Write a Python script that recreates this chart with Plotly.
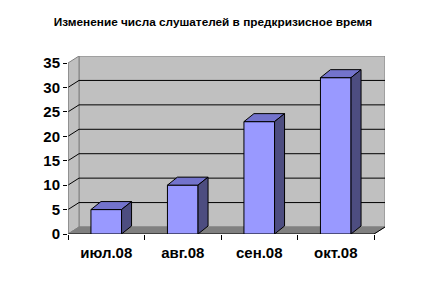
import plotly.graph_objects as go

# ---- data ----
categories = ["июл.08", "авг.08", "сен.08", "окт.08"]
listeners = [5, 10, 23, 32]
value_ticks = [0, 5, 10, 15, 20, 25, 30, 35]
title_text = "Изменение числа слушателей в предкризисное время"

# ---- style / geometry ----
W, H = 426, 284
L, R, T, B = 68, 41, 56, 50
WALL_DX, WALL_DY = 11, 7          # depth offset of back wall, px
BAR_DX, BAR_DY = 10, 8            # depth of bars, px
BAR_W = 0.4
FONT = "Liberation Sans, Arial, sans-serif"

n = len(categories)
vmax = value_ticks[-1]
plot_w = W - L - R
plot_h = H - T - B
cat_px = (plot_w - WALL_DX) / n
val_px = (plot_h - WALL_DY) / vmax
dxd = WALL_DX / cat_px
dyd = WALL_DY / val_px
bdx = BAR_DX / cat_px
bdy = BAR_DY / val_px
x0f, x1f = -0.5, n - 0.5
xs = list(range(n))

shapes = []
# back wall
shapes.append(dict(type="rect", xref="x", yref="y", x0=x0f + dxd, x1=x1f + dxd, y0=dyd, y1=vmax + dyd,
                   fillcolor="#C0C0C0", line=dict(color="#808080", width=1), layer="below"))
# left side wall
shapes.append(dict(type="path", xref="x", yref="y",
                   path=f"M{x0f},0 L{x0f},{vmax} L{x0f+dxd},{vmax+dyd} L{x0f+dxd},{dyd} Z",
                   fillcolor="#C0C0C0", line=dict(color="#808080", width=1), layer="below"))
# floor
shapes.append(dict(type="path", xref="x", yref="y",
                   path=f"M{x0f},0 L{x1f},0 L{x1f+dxd},{dyd} L{x0f+dxd},{dyd} Z",
                   fillcolor="#808080", line=dict(color="#808080", width=1), layer="below"))
# gridlines on back wall + side wall
for v in value_ticks[1:-1]:
    shapes.append(dict(type="line", xref="x", yref="y", x0=x0f + dxd, x1=x1f + dxd, y0=v + dyd, y1=v + dyd,
                       line=dict(color="black", width=1), layer="below"))
    shapes.append(dict(type="line", xref="x", yref="y", x0=x0f, x1=x0f + dxd, y0=v, y1=v + dyd,
                       line=dict(color="black", width=1), layer="below"))
# front edges
shapes.append(dict(type="line", xref="x", yref="y", x0=x0f, x1=x1f, y0=0, y1=0,
                   line=dict(color="black", width=1), layer="below"))
shapes.append(dict(type="line", xref="x", yref="y", x0=x1f, x1=x1f + dxd, y0=0, y1=dyd,
                   line=dict(color="black", width=1), layer="below"))
shapes.append(dict(type="line", xref="x", yref="y", x0=x0f, x1=x0f, y0=0, y1=vmax,
                   line=dict(color="#808080", width=1), layer="below"))

fig = go.Figure()

# bar front faces
fig.add_trace(go.Bar(x=xs, y=listeners, width=BAR_W,
                     marker=dict(color="#9999FF", line=dict(color="black", width=1)),
                     hoverinfo="skip", showlegend=False))

# bar top faces and side faces
top_x, top_y, side_x, side_y = [], [], [], []
for x, v in zip(xs, listeners):
    a, b = x - BAR_W / 2, x + BAR_W / 2
    top_x += [a, a + bdx, b + bdx, b, a, None]
    top_y += [v, v + bdy, v + bdy, v, v, None]
    side_x += [b, b + bdx, b + bdx, b, b, None]
    side_y += [0, bdy, v + bdy, v, 0, None]

fig.add_trace(go.Scatter(x=top_x, y=top_y, mode="lines", fill="toself", fillcolor="#7373CC",
                         line=dict(color="black", width=1), hoverinfo="skip", showlegend=False))
fig.add_trace(go.Scatter(x=side_x, y=side_y, mode="lines", fill="toself", fillcolor="#4D4D80",
                         line=dict(color="black", width=1), hoverinfo="skip", showlegend=False))

fig.update_layout(
    width=W, height=H,
    margin=dict(l=L, r=R, t=T, b=B),
    paper_bgcolor="white", plot_bgcolor="white",
    shapes=shapes,
    hovermode=False,
    title=dict(text=title_text, x=0.5, xanchor="center", y=1 - 22 / H, yanchor="middle",
               font=dict(family=FONT, size=11.8, color="black", weight="bold")),
    xaxis=dict(range=[x0f, x1f + dxd], tickvals=xs, ticktext=categories, ticks="",
               showgrid=False, zeroline=False, showline=False,
               minor=dict(tickvals=[i - 0.5 for i in range(n + 1)], ticks="outside", ticklen=5,
                          tickcolor="black", showgrid=False),
               ticklabelstandoff=8,
               tickfont=dict(family=FONT, size=15, color="black", weight="bold")),
    yaxis=dict(range=[0, vmax + dyd], tickvals=value_ticks, ticks="outside", ticklen=4, tickcolor="black",
               showgrid=False, zeroline=False, showline=False,
               tickfont=dict(family=FONT, size=15, color="black", weight="bold")),
)

fig.write_html("out.html")
